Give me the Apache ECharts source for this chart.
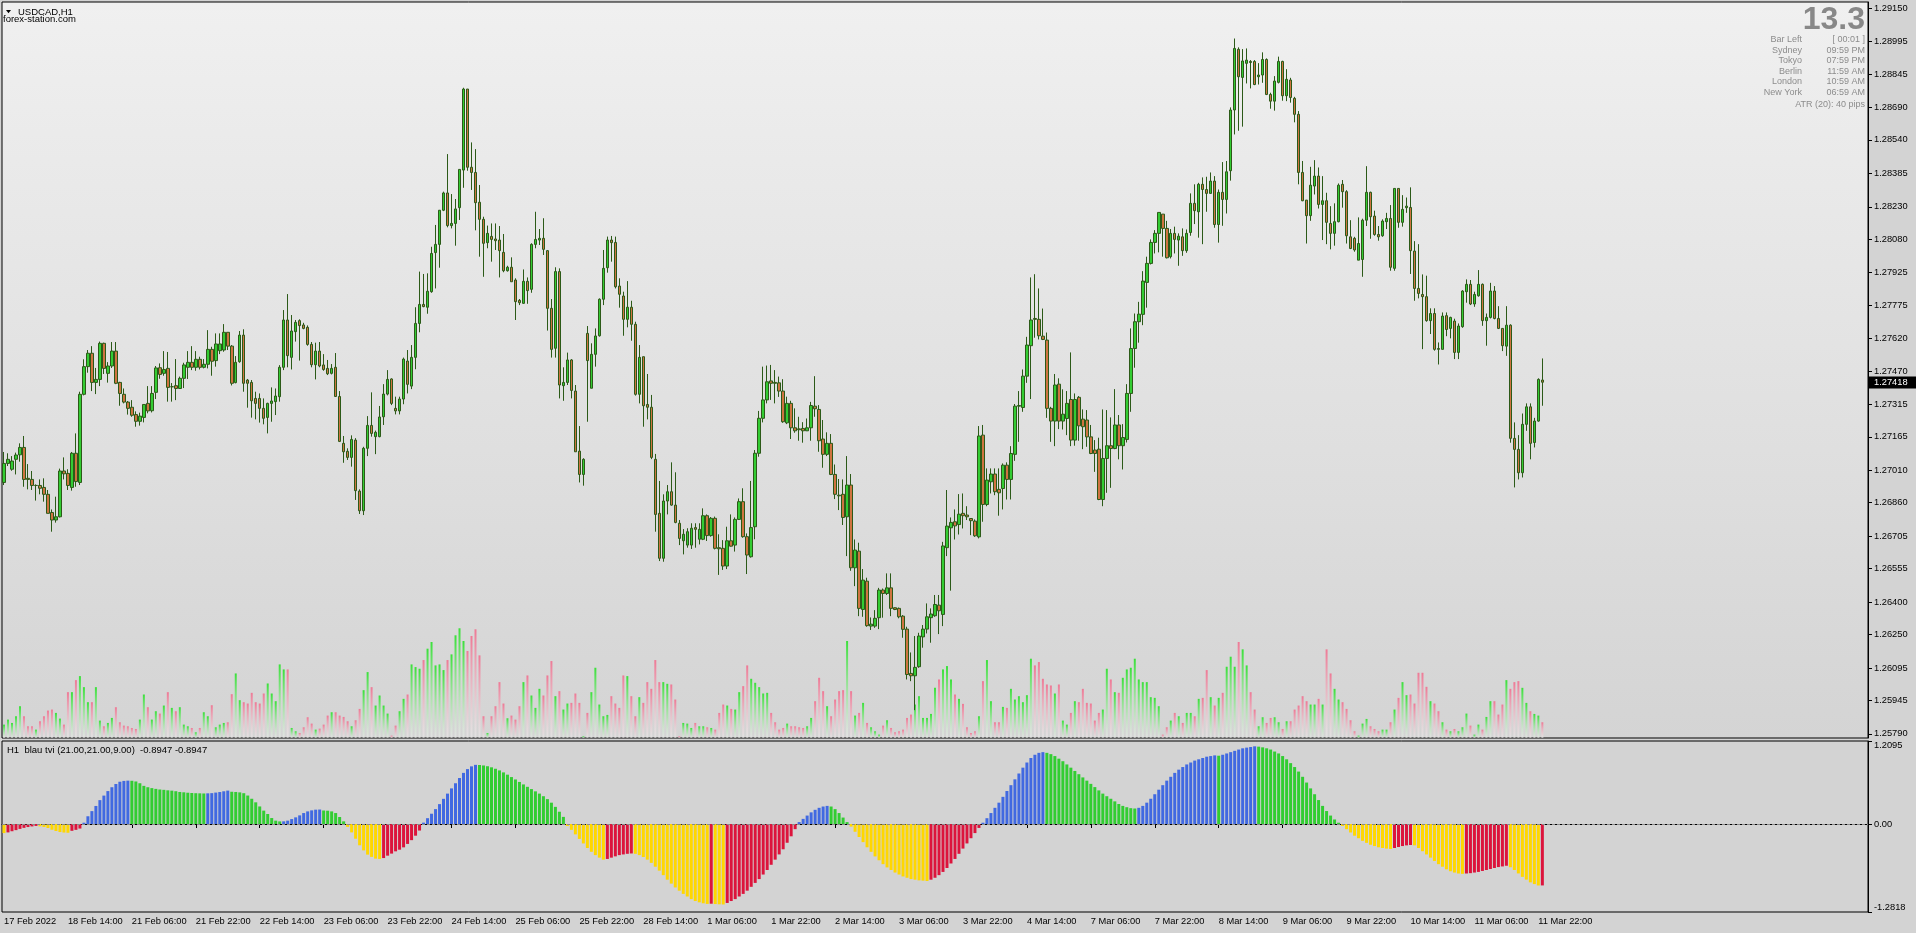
<!DOCTYPE html>
<html><head><meta charset="utf-8">
<script src="https://cdn.jsdelivr.net/npm/echarts@6/dist/echarts.min.js"></script>
<style>html,body{margin:0;padding:0;background:#d3d3d3;overflow:hidden}#c{width:1916px;height:933px}</style>
</head><body><div id="c"></div><script>
const opens=[1.26954,1.27042,1.27015,1.27061,1.27082,1.27116,1.26973,1.26968,1.26940,1.26940,
1.26931,1.26899,1.26815,1.26780,1.26795,1.27007,1.26996,1.26931,1.27089,1.26954,
1.27362,1.27490,1.27552,1.27417,1.27431,1.27598,1.27459,1.27493,1.27562,1.27417,
1.27362,1.27326,1.27302,1.27268,1.27237,1.27255,1.27320,1.27286,1.27371,1.27485,
1.27459,1.27482,1.27397,1.27402,1.27389,1.27436,1.27487,1.27510,1.27487,1.27524,
1.27487,1.27501,1.27570,1.27518,1.27564,1.27567,1.27649,1.27585,1.27416,1.27513,
1.27636,1.27428,1.27417,1.27343,1.27343,1.27297,1.27255,1.27320,1.27328,1.27351,
1.27487,1.27706,1.27533,1.27652,1.27703,1.27683,1.27672,1.27593,1.27499,1.27562,
1.27498,1.27482,1.27459,1.27487,1.27352,1.27135,1.27098,1.27070,1.27150,1.26914,
1.26823,1.27112,1.27218,1.27166,1.27166,1.27258,1.27363,1.27433,1.27297,1.27285,
1.27340,1.27516,1.27400,1.27533,1.27690,1.27778,1.27765,1.27837,1.28018,1.28056,
1.28214,1.28294,1.28143,1.28153,1.28226,1.28400,1.28775,1.28413,1.28389,1.28251,
1.28172,1.28064,1.28093,1.28081,1.28076,1.28019,1.27934,1.27950,1.27891,1.27797,
1.27783,1.27885,1.27848,1.28056,1.28076,1.28084,1.28027,1.27760,1.27575,1.27930,
1.27402,1.27417,1.27521,1.27377,1.27099,1.26991,1.27644,1.27390,1.27547,1.27633,
1.27802,1.27948,1.28076,1.28065,1.27863,1.27817,1.27709,1.27765,1.27686,1.27362,
1.27536,1.27315,1.27302,1.27061,1.26811,1.26603,1.26868,1.26911,1.26849,1.26765,
1.26684,1.26664,1.26664,1.26745,1.26691,1.26691,1.26800,1.26708,1.26788,1.26652,
1.26649,1.26567,1.26684,1.26664,1.26783,1.26865,1.26703,1.26610,1.26749,1.27089,
1.27251,1.27336,1.27424,1.27417,1.27415,1.27377,1.27230,1.27320,1.27207,1.27202,
1.27204,1.27193,1.27207,1.27307,1.27292,1.27155,1.27084,1.27135,1.26991,1.26895,
1.26899,1.26795,1.26942,1.26559,1.26636,1.26366,1.26497,1.26289,1.26289,1.26328,
1.26456,1.26440,1.26466,1.26374,1.26371,1.26335,1.26275,1.26070,1.26059,1.26101,
1.26239,1.26275,1.26328,1.26337,1.26386,1.26343,1.26652,1.26744,1.26772,1.26759,
1.26811,1.26803,1.26787,1.26775,1.26702,1.27173,1.26852,1.26957,1.26993,1.26922,
1.26926,1.27034,1.26968,1.27084,1.27307,1.27301,1.27446,1.27587,1.27713,1.27709,
1.27631,1.27613,1.27297,1.27238,1.27409,1.27238,1.27250,1.27338,1.27150,1.27348,
1.27247,1.27243,1.27165,1.27104,1.27108,1.26875,1.27065,1.27124,1.27111,1.27220,
1.27124,1.27153,1.27366,1.27574,1.27698,1.27732,1.27880,1.27968,1.28065,1.28107,
1.28196,1.28130,1.27999,1.28107,1.28076,1.28091,1.28027,1.28111,1.28246,1.28207,
1.28334,1.28310,1.28292,1.28349,1.28148,1.28297,1.28264,1.28397,1.28678,1.28959,
1.28829,1.28894,1.28903,1.28903,1.28832,1.28840,1.28912,1.28750,1.28719,1.28806,
1.28903,1.28744,1.28817,1.28732,1.28658,1.28389,1.28261,1.28189,1.28326,1.28372,
1.28241,1.28258,1.28153,1.28107,1.28161,1.28334,1.28300,1.28091,1.28084,1.27983,
1.27986,1.28168,1.28297,1.28187,1.28102,1.28096,1.28161,1.28176,1.27945,1.28315,
1.28158,1.28226,1.28227,1.28025,1.27852,1.27824,1.27814,1.27703,1.27736,1.27574,
1.27570,1.27726,1.27667,1.27701,1.27556,1.27675,1.27837,1.27871,1.27780,1.27818,
1.27871,1.27703,1.27718,1.27840,1.27713,1.27667,1.27585,1.27682,1.27158,1.27107,
1.26999,1.27223,1.27304,1.27139,1.27238,1.27428];
const highs=[1.27095,1.27089,1.27076,1.27092,1.27135,1.27169,1.27039,1.27007,1.26945,1.26968,
1.26973,1.26919,1.26829,1.26888,1.27018,1.27070,1.27015,1.27095,1.27181,1.27374,
1.27524,1.27567,1.27585,1.27484,1.27606,1.27601,1.27511,1.27604,1.27604,1.27420,
1.27389,1.27331,1.27335,1.27283,1.27277,1.27315,1.27400,1.27400,1.27493,1.27505,
1.27562,1.27558,1.27414,1.27525,1.27444,1.27508,1.27562,1.27585,1.27562,1.27536,
1.27525,1.27659,1.27582,1.27644,1.27644,1.27687,1.27649,1.27590,1.27539,1.27655,
1.27663,1.27433,1.27428,1.27374,1.27366,1.27343,1.27323,1.27394,1.27389,1.27497,
1.27752,1.27826,1.27729,1.27706,1.27709,1.27693,1.27681,1.27604,1.27601,1.27604,
1.27548,1.27521,1.27502,1.27553,1.27377,1.27169,1.27112,1.27172,1.27159,1.26922,
1.27119,1.27261,1.27371,1.27194,1.27308,1.27409,1.27474,1.27436,1.27351,1.27351,
1.27532,1.27567,1.27590,1.27765,1.27930,1.27919,1.27922,1.28045,1.28146,1.28215,
1.28300,1.28474,1.28289,1.28266,1.28403,1.28781,1.28775,1.28528,1.28497,1.28331,
1.28184,1.28143,1.28153,1.28153,1.28141,1.28104,1.27957,1.27996,1.27899,1.27803,
1.27940,1.27903,1.28061,1.28207,1.28127,1.28177,1.28030,1.27803,1.27950,1.27945,
1.27487,1.27555,1.27525,1.27405,1.27215,1.27066,1.27678,1.27598,1.27667,1.27806,
1.28030,1.28092,1.28095,1.28092,1.27899,1.27837,1.27886,1.27795,1.27698,1.27590,
1.27536,1.27456,1.27359,1.27086,1.26961,1.26899,1.26942,1.27047,1.27001,1.26780,
1.26738,1.26742,1.26765,1.26765,1.26765,1.26834,1.26806,1.26794,1.26796,1.26714,
1.26687,1.26749,1.26806,1.26792,1.26880,1.26927,1.26718,1.26961,1.27104,1.27285,
1.27490,1.27495,1.27498,1.27474,1.27444,1.27432,1.27351,1.27332,1.27297,1.27258,
1.27233,1.27250,1.27327,1.27446,1.27312,1.27243,1.27186,1.27178,1.27037,1.26970,
1.26968,1.27076,1.26993,1.26690,1.26675,1.26553,1.26513,1.26329,1.26363,1.26466,
1.26463,1.26533,1.26533,1.26375,1.26375,1.26340,1.26286,1.26167,1.26243,1.26258,
1.26294,1.26394,1.26371,1.26433,1.26433,1.26679,1.26919,1.26792,1.26829,1.26900,
1.26903,1.26844,1.26787,1.26783,1.27215,1.27220,1.27019,1.27019,1.27019,1.27019,
1.27042,1.27047,1.27122,1.27317,1.27377,1.27477,1.27628,1.27903,1.27918,1.27852,
1.27759,1.27648,1.27304,1.27456,1.27436,1.27385,1.27377,1.27556,1.27366,1.27354,
1.27292,1.27289,1.27220,1.27150,1.27161,1.27292,1.27289,1.27255,1.27386,1.27266,
1.27224,1.27409,1.27667,1.27736,1.27790,1.27932,1.27999,1.28079,1.28122,1.28204,
1.28196,1.28165,1.28127,1.28138,1.28107,1.28130,1.28125,1.28292,1.28334,1.28341,
1.28366,1.28369,1.28389,1.28372,1.28310,1.28437,1.28442,1.28690,1.29009,1.28968,
1.28960,1.28963,1.28909,1.28909,1.28895,1.28945,1.28917,1.28758,1.28835,1.28925,
1.28906,1.28867,1.28827,1.28739,1.28673,1.28442,1.28261,1.28415,1.28446,1.28412,
1.28372,1.28295,1.28233,1.28246,1.28338,1.28354,1.28307,1.28168,1.28091,1.28181,
1.28175,1.28418,1.28300,1.28212,1.28141,1.28172,1.28202,1.28238,1.28315,1.28315,
1.28284,1.28273,1.28320,1.28071,1.28057,1.27917,1.27911,1.27760,1.27760,1.27602,
1.27741,1.27741,1.27721,1.27712,1.27690,1.27844,1.27894,1.27891,1.27837,1.27937,
1.27875,1.27736,1.27878,1.27863,1.27770,1.27667,1.27770,1.27686,1.27232,1.27173,
1.27273,1.27320,1.27320,1.27253,1.27436,1.27528];
const lows=[1.26942,1.27030,1.27008,1.26991,1.27050,1.26934,1.26922,1.26919,1.26870,1.26899,
1.26865,1.26811,1.26726,1.26768,1.26792,1.26968,1.26919,1.26916,1.26934,1.26942,
1.27357,1.27462,1.27377,1.27363,1.27400,1.27456,1.27416,1.27484,1.27409,1.27309,
1.27320,1.27268,1.27258,1.27212,1.27217,1.27232,1.27274,1.27278,1.27340,1.27434,
1.27448,1.27328,1.27328,1.27335,1.27388,1.27391,1.27433,1.27474,1.27471,1.27477,
1.27482,1.27482,1.27448,1.27490,1.27548,1.27559,1.27567,1.27403,1.27413,1.27508,
1.27374,1.27300,1.27254,1.27246,1.27231,1.27223,1.27181,1.27235,1.27266,1.27328,
1.27474,1.27487,1.27477,1.27606,1.27518,1.27663,1.27587,1.27487,1.27431,1.27487,
1.27471,1.27451,1.27454,1.27351,1.27141,1.27045,1.27058,1.27027,1.26873,1.26808,
1.26803,1.27076,1.27166,1.27085,1.27163,1.27220,1.27357,1.27312,1.27269,1.27269,
1.27316,1.27366,1.27386,1.27478,1.27649,1.27765,1.27735,1.27832,1.27852,1.27948,
1.28210,1.28135,1.28130,1.28050,1.28169,1.28318,1.28397,1.28308,1.28121,1.27999,
1.27906,1.28038,1.27976,1.28030,1.27903,1.27927,1.27930,1.27883,1.27706,1.27775,
1.27781,1.27781,1.27832,1.28038,1.28053,1.28007,1.27657,1.27532,1.27532,1.27343,
1.27332,1.27405,1.27343,1.27096,1.26954,1.26939,1.27235,1.27390,1.27490,1.27629,
1.27775,1.27925,1.27976,1.27852,1.27763,1.27633,1.27672,1.27610,1.27356,1.27320,
1.27212,1.27246,1.27062,1.26726,1.26590,1.26587,1.26806,1.26846,1.26765,1.26664,
1.26621,1.26652,1.26646,1.26652,1.26667,1.26687,1.26683,1.26703,1.26644,1.26526,
1.26549,1.26553,1.26657,1.26634,1.26780,1.26698,1.26530,1.26606,1.26691,1.27073,
1.27232,1.27320,1.27336,1.27320,1.27350,1.27230,1.27224,1.27155,1.27184,1.27147,
1.27138,1.27192,1.27147,1.27258,1.27096,1.27022,1.27076,1.26988,1.26877,1.26826,
1.26757,1.26613,1.26545,1.26474,1.26335,1.26332,1.26286,1.26271,1.26281,1.26275,
1.26328,1.26433,1.26335,1.26363,1.26325,1.26235,1.26042,1.26034,1.25900,1.26096,
1.26189,1.26255,1.26212,1.26332,1.26252,1.26289,1.26613,1.26453,1.26690,1.26713,
1.26741,1.26780,1.26710,1.26702,1.26695,1.26772,1.26844,1.26903,1.26895,1.26800,
1.26829,1.26875,1.26875,1.27054,1.27142,1.27281,1.27415,1.27340,1.27624,1.27616,
1.27613,1.27253,1.27142,1.27122,1.27201,1.27199,1.27173,1.27122,1.27124,1.27147,
1.27108,1.27119,1.27085,1.27003,1.26872,1.26844,1.26906,1.26929,1.27108,1.27061,
1.27014,1.27139,1.27281,1.27485,1.27601,1.27682,1.27763,1.27963,1.28014,1.28019,
1.27999,1.27991,1.27991,1.28014,1.27957,1.28003,1.28017,1.28096,1.28150,1.28087,
1.28057,1.28207,1.28292,1.28133,1.28064,1.28142,1.28199,1.28351,1.28565,1.28582,
1.28601,1.28801,1.28778,1.28793,1.28796,1.28804,1.28747,1.28684,1.28675,1.28801,
1.28721,1.28719,1.28712,1.28621,1.28334,1.28256,1.28060,1.28165,1.28287,1.28222,
1.28076,1.28057,1.28033,1.28050,1.28158,1.28226,1.28060,1.28034,1.28022,1.27983,
1.27906,1.28141,1.28082,1.28096,1.28073,1.28091,1.28127,1.27934,1.27934,1.28133,
1.28138,1.28202,1.27919,1.27795,1.27806,1.27571,1.27698,1.27641,1.27564,1.27500,
1.27570,1.27631,1.27621,1.27525,1.27525,1.27670,1.27786,1.27775,1.27767,1.27814,
1.27679,1.27587,1.27713,1.27709,1.27664,1.27562,1.27540,1.27138,1.26931,1.26968,
1.26977,1.27193,1.27061,1.27116,1.27235,1.27309];
const closes=[1.27042,1.27061,1.27053,1.27081,1.27116,1.26968,1.26968,1.26940,1.26940,1.26927,
1.26899,1.26811,1.26780,1.26795,1.27007,1.26994,1.26940,1.27089,1.26958,1.27362,
1.27490,1.27552,1.27417,1.27431,1.27598,1.27482,1.27493,1.27562,1.27413,1.27366,
1.27326,1.27297,1.27265,1.27237,1.27261,1.27315,1.27285,1.27366,1.27484,1.27454,
1.27477,1.27394,1.27397,1.27389,1.27436,1.27498,1.27510,1.27487,1.27524,1.27487,
1.27501,1.27570,1.27515,1.27595,1.27595,1.27649,1.27585,1.27413,1.27510,1.27636,
1.27413,1.27413,1.27332,1.27320,1.27297,1.27251,1.27320,1.27331,1.27354,1.27487,
1.27706,1.27541,1.27655,1.27695,1.27680,1.27667,1.27593,1.27499,1.27562,1.27493,
1.27477,1.27457,1.27482,1.27352,1.27144,1.27096,1.27070,1.27153,1.26916,1.26823,
1.27112,1.27218,1.27181,1.27186,1.27257,1.27363,1.27431,1.27320,1.27285,1.27340,
1.27525,1.27408,1.27533,1.27690,1.27778,1.27768,1.27839,1.28014,1.28056,1.28214,
1.28294,1.28143,1.28153,1.28220,1.28403,1.28775,1.28413,1.28389,1.28249,1.28172,
1.28061,1.28107,1.28079,1.28073,1.28027,1.27934,1.27950,1.27883,1.27791,1.27786,
1.27885,1.27842,1.28056,1.28079,1.28084,1.28033,1.27760,1.27570,1.27930,1.27405,
1.27417,1.27521,1.27380,1.27096,1.26991,1.27061,1.27518,1.27547,1.27632,1.27802,
1.27945,1.28076,1.28064,1.27860,1.27825,1.27709,1.27765,1.27686,1.27362,1.27533,
1.27309,1.27302,1.27070,1.26806,1.26603,1.26868,1.26911,1.26849,1.26769,1.26695,
1.26714,1.26726,1.26742,1.26737,1.26737,1.26800,1.26708,1.26788,1.26649,1.26647,
1.26567,1.26684,1.26659,1.26783,1.26865,1.26703,1.26618,1.26745,1.27089,1.27251,
1.27336,1.27420,1.27413,1.27413,1.27377,1.27235,1.27320,1.27207,1.27193,1.27198,
1.27193,1.27207,1.27310,1.27295,1.27147,1.27084,1.27135,1.26991,1.26899,1.26892,
1.26792,1.26942,1.26559,1.26641,1.26371,1.26502,1.26291,1.26298,1.26325,1.26456,
1.26440,1.26466,1.26371,1.26366,1.26332,1.26274,1.26065,1.26059,1.26098,1.26243,
1.26275,1.26332,1.26345,1.26389,1.26360,1.26660,1.26752,1.26769,1.26753,1.26807,
1.26800,1.26795,1.26777,1.26707,1.27169,1.26852,1.26965,1.26993,1.26911,1.26906,
1.27034,1.26968,1.27088,1.27307,1.27310,1.27446,1.27590,1.27706,1.27709,1.27633,
1.27616,1.27297,1.27238,1.27405,1.27238,1.27270,1.27320,1.27150,1.27338,1.27216,
1.27212,1.27165,1.27088,1.27088,1.26875,1.27065,1.27124,1.27111,1.27220,1.27124,
1.27162,1.27366,1.27574,1.27698,1.27733,1.27886,1.27968,1.28065,1.28107,1.28204,
1.28130,1.27994,1.28107,1.28079,1.28094,1.28027,1.28107,1.28246,1.28212,1.28334,
1.28310,1.28292,1.28349,1.28148,1.28297,1.28264,1.28392,1.28678,1.28963,1.28832,
1.28905,1.28909,1.28898,1.28796,1.28840,1.28912,1.28750,1.28719,1.28812,1.28903,
1.28744,1.28820,1.28736,1.28658,1.28389,1.28258,1.28189,1.28330,1.28372,1.28241,
1.28258,1.28158,1.28107,1.28161,1.28330,1.28300,1.28096,1.28037,1.28030,1.28060,
1.28168,1.28297,1.28184,1.28102,1.28091,1.28164,1.28176,1.27950,1.28315,1.28158,
1.28218,1.28233,1.28027,1.27852,1.27829,1.27814,1.27703,1.27736,1.27570,1.27570,
1.27724,1.27662,1.27718,1.27556,1.27678,1.27840,1.27871,1.27780,1.27824,1.27871,
1.27703,1.27718,1.27840,1.27713,1.27667,1.27587,1.27682,1.27158,1.27107,1.26999,
1.27223,1.27304,1.27135,1.27238,1.27431,1.27418];
const volumes=[40,55,
45,65,95,65,35,35,25,50,65,82,85,75,58,40,137,137,173,185,152,107,
107,152,52,35,45,60,92,47,37,35,30,27,55,130,92,55,80,73,97,137,
90,80,92,40,35,30,17,30,77,65,98,32,40,45,47,131,193,113,107,103,
135,107,103,133,163,133,110,220,205,205,30,20,15,32,62,43,25,28,40,67,
77,77,67,63,50,35,53,87,143,197,152,97,127,97,73,7,37,80,117,130,
220,212,207,233,267,287,217,220,203,233,250,307,328,290,260,305,325,247,65,15,
65,95,167,103,59,67,55,95,167,187,127,90,147,127,187,230,125,140,85,103,
105,133,105,5,75,137,210,100,65,69,125,103,90,187,185,125,65,122,105,167,
147,233,167,167,162,160,115,5,45,43,30,45,35,35,32,30,25,75,100,97,
87,85,137,155,217,177,165,152,133,135,75,47,25,30,43,35,35,32,30,35,
60,110,180,140,95,65,115,140,143,290,140,67,75,105,45,32,20,10,37,53,
30,17,20,25,60,70,100,125,60,60,72,150,175,205,215,175,130,117,102,32,
15,20,65,170,233,110,47,47,93,90,147,115,125,107,128,237,217,227,177,160,
157,133,160,52,40,75,110,107,147,105,103,52,75,85,207,175,137,135,180,205,
210,237,175,167,167,122,120,95,10,32,52,75,65,45,75,75,65,117,120,203,
122,97,120,135,213,243,213,287,265,217,137,85,35,62,45,60,62,47,27,50,
50,85,97,125,110,100,100,117,100,265,193,147,115,107,87,53,20,7,43,57,
35,27,20,25,25,47,85,120,167,128,130,103,195,195,153,110,103,80,47,25,
20,27,20,32,73,37,10,40,25,63,110,110,70,100,173,147,167,170,150,105,
80,72,67,47];
const tviBefore=-0.125;
const tvi=[-0.132,-0.122,-0.105,-0.089,-0.071,-0.056,-0.044,-0.035,-0.028,-0.034,
-0.043,-0.058,-0.083,-0.102,-0.117,-0.124,-0.127,-0.099,-0.085,-0.066,
0.019,0.113,0.188,0.263,0.348,0.414,0.480,0.536,0.583,0.616,
0.628,0.632,0.630,0.620,0.594,0.556,0.536,0.523,0.512,0.503,
0.498,0.491,0.486,0.478,0.467,0.462,0.456,0.452,0.449,0.447,
0.445,0.447,0.450,0.458,0.466,0.477,0.487,0.470,0.467,0.461,
0.449,0.415,0.368,0.316,0.256,0.195,0.146,0.087,0.049,0.038,
0.039,0.049,0.072,0.097,0.126,0.160,0.184,0.199,0.209,0.211,
0.197,0.194,0.184,0.160,0.102,0.039,-0.042,-0.122,-0.214,-0.310,
-0.384,-0.446,-0.479,-0.504,-0.509,-0.496,-0.461,-0.431,-0.398,-0.374,
-0.340,-0.290,-0.235,-0.170,-0.095,0.020,0.085,0.150,0.217,0.290,
0.367,0.443,0.519,0.594,0.670,0.745,0.800,0.840,0.862,0.860,
0.853,0.842,0.826,0.805,0.781,0.752,0.719,0.684,0.649,0.613,
0.577,0.542,0.509,0.476,0.443,0.405,0.363,0.311,0.250,0.179,
0.104,-0.028,-0.085,-0.151,-0.217,-0.283,-0.349,-0.405,-0.453,-0.490,
-0.519,-0.509,-0.490,-0.471,-0.453,-0.443,-0.434,-0.429,-0.434,-0.453,
-0.481,-0.519,-0.566,-0.622,-0.679,-0.745,-0.811,-0.868,-0.924,-0.971,
-1.018,-1.056,-1.094,-1.122,-1.141,-1.155,-1.164,-1.161,-1.166,-1.170,
-1.172,-1.150,-1.122,-1.094,-1.056,-1.018,-0.971,-0.915,-0.858,-0.802,
-0.736,-0.670,-0.594,-0.519,-0.443,-0.368,-0.273,-0.179,-0.075,0.028,
0.075,0.123,0.170,0.207,0.236,0.255,0.264,0.255,0.217,0.160,
0.094,0.028,-0.038,-0.113,-0.189,-0.264,-0.339,-0.405,-0.472,-0.528,
-0.585,-0.632,-0.670,-0.707,-0.736,-0.764,-0.783,-0.802,-0.811,-0.821,
-0.825,-0.830,-0.811,-0.783,-0.745,-0.698,-0.641,-0.575,-0.509,-0.434,
-0.358,-0.283,-0.207,-0.132,-0.057,0.019,0.085,0.160,0.236,0.311,
0.396,0.481,0.566,0.651,0.736,0.821,0.896,0.962,1.009,1.037,
1.047,1.037,1.018,0.990,0.952,0.915,0.868,0.821,0.773,0.726,
0.679,0.632,0.585,0.538,0.490,0.443,0.405,0.368,0.330,0.292,
0.264,0.245,0.231,0.226,0.236,0.264,0.311,0.368,0.434,0.500,
0.566,0.632,0.688,0.745,0.792,0.830,0.868,0.896,0.924,0.943,
0.962,0.981,0.990,1.000,0.995,1.009,1.028,1.047,1.066,1.085,
1.103,1.113,1.122,1.132,1.127,1.117,1.103,1.085,1.056,1.028,
0.990,0.943,0.887,0.830,0.764,0.688,0.604,0.519,0.434,0.349,
0.264,0.189,0.123,0.066,0.019,-0.028,-0.075,-0.123,-0.170,-0.207,
-0.245,-0.274,-0.302,-0.321,-0.339,-0.349,-0.358,-0.363,-0.349,-0.335,
-0.321,-0.311,-0.306,-0.311,-0.349,-0.396,-0.443,-0.490,-0.538,-0.585,
-0.622,-0.660,-0.688,-0.707,-0.721,-0.726,-0.721,-0.716,-0.707,-0.698,
-0.684,-0.670,-0.655,-0.641,-0.627,-0.618,-0.608,-0.630,-0.670,-0.720,
-0.770,-0.810,-0.850,-0.875,-0.8955,-0.8947];
const xTickLabels=['17 Feb 2022','18 Feb 14:00','21 Feb 06:00','21 Feb 22:00','22 Feb 14:00','23 Feb 06:00','23 Feb 22:00','24 Feb 14:00','25 Feb 06:00','25 Feb 22:00','28 Feb 14:00','1 Mar 06:00','1 Mar 22:00','2 Mar 14:00','3 Mar 06:00','3 Mar 22:00','4 Mar 14:00','7 Mar 06:00','7 Mar 22:00','8 Mar 14:00','9 Mar 06:00','9 Mar 22:00','10 Mar 14:00','11 Mar 06:00','11 Mar 22:00'];
const priceTicks=[1.25790,1.25945,1.26095,1.26250,1.26400,1.26555,1.26705,1.26860,1.27010,1.27165,1.27315,1.27470,1.27620,1.27775,1.27925,1.28080,1.28230,1.28385,1.28540,1.28690,1.28845,1.28995,1.29150];
const tviTicks=[-1.2818,0,1.2095];
const lastPrice=1.27418;
const infoNames=['Bar Left','Sydney','Tokyo','Berlin','London','New York'];
const infoValues=['[ 00:01 ]','09:59 PM','07:59 PM','11:59 AM','10:59 AM','06:59 AM'];
const atrText='ATR (20): 40 pips';
const spreadText='13.3';
const symbolTitle='USDCAD,H1';
const siteTitle='forex-station.com';
const indTitle='H1  blau tvi (21.00,21.00,9.00)  -0.8947 -0.8947';

// hourly categories (weekdays only), with empty future slots as in the terminal's chart shift
const N_SLOTS=467;
const cats=[];
{
  let t=Date.UTC(2022,1,17,22);
  const mon=['Jan','Feb','Mar','Apr','May','Jun','Jul','Aug','Sep','Oct','Nov','Dec'];
  while(cats.length<N_SLOTS){
    const d=new Date(t);const wd=d.getUTCDay();
    if(wd!==0&&wd!==6){cats.push(d.getUTCDate()+' '+mon[d.getUTCMonth()]+' '+String(d.getUTCHours()).padStart(2,'0')+':00');}
    t+=3600000;
  }
}
const FONT='"Liberation Sans", Arial, sans-serif';
const candleData=closes.map((c,i)=>[opens[i],c,lows[i],highs[i]]);
const volData=volumes.map((v,i)=>{
  const up=closes[i]>=opens[i];
  const c=up?'#3be03b':'#ee7a96';
  return {value:v,itemStyle:{color:new echarts.graphic.LinearGradient(0,0,0,1,[{offset:0,color:c},{offset:1,color:'rgba(235,235,235,0.6)'}])}};
});
const tviData=tvi.map((v,i)=>{
  const p=i===0?tviBefore:tvi[i-1];
  let col;
  if(v>=0) col=v>p?'#4169e1':'#32cd32'; else col=v<p?'#ffd700':'#dc143c';
  return {value:v,itemStyle:{color:col}};
});
const tickShow=(idx)=>idx%16===0&&idx/16<xTickLabels.length;

const chart=echarts.init(document.getElementById('c'),null,{renderer:'canvas',width:1916,height:933});
const graphics=[
  {type:'polygon',shape:{points:[[6,10],[11,10],[8.5,13.2]]},style:{fill:'#000'}},
  {type:'text',x:18,y:12,style:{text:symbolTitle,font:'9.5px '+FONT,fill:'#000',verticalAlign:'middle'}},
  {type:'text',x:3,y:19.5,style:{text:siteTitle,font:'9.5px '+FONT,fill:'#000',verticalAlign:'middle'}},
  {type:'text',x:1865,y:20,style:{text:spreadText,font:'bold 32px "Liberation Sans Narrow", '+FONT,fill:'#888888',align:'right',verticalAlign:'middle'}},
  {type:'text',x:1865,y:104.5,style:{text:atrText,font:'9px '+FONT,fill:'#8c8c8c',align:'right',verticalAlign:'middle'}},
  {type:'text',x:7,y:750,style:{text:indTitle,font:'9.5px '+FONT,fill:'#000',verticalAlign:'middle'}},
  {type:'rect',z:100,shape:{x:1868,y:376.5,width:48,height:12},style:{fill:'#000'}},
  {type:'text',z:101,x:1874,y:382.5,style:{text:lastPrice.toFixed(5),font:'9.3px '+FONT,fill:'#fff',verticalAlign:'middle'}}
];
infoNames.forEach((n,k)=>{
  graphics.push({type:'text',x:1802,y:39.5+10.6*k,style:{text:n,font:'9px '+FONT,fill:'#8c8c8c',align:'right',verticalAlign:'middle'}});
  graphics.push({type:'text',x:1865,y:39.5+10.6*k,style:{text:infoValues[k],font:'9px '+FONT,fill:'#8c8c8c',align:'right',verticalAlign:'middle'}});
});

chart.setOption({
  animation:false,
  backgroundColor:'#d3d3d3',
  textStyle:{fontFamily:FONT},
  grid:[
    {left:2,top:2,width:1866,height:736,show:true,borderColor:'#000',borderWidth:1,
     backgroundColor:new echarts.graphic.LinearGradient(0,0,0,1,[{offset:0,color:'#f0f0f0'},{offset:1,color:'#d4d4d4'}])},
    {left:2,top:741,width:1866,height:171,show:true,borderColor:'#000',borderWidth:1,backgroundColor:'#d3d3d3'}
  ],
  xAxis:[
    {gridIndex:0,type:'category',data:cats,boundaryGap:true,show:false},
    {gridIndex:1,type:'category',data:cats,boundaryGap:true,
     axisLine:{lineStyle:{color:'#000',width:1}},
     axisTick:{show:true,alignWithLabel:true,interval:tickShow,length:4,lineStyle:{color:'#000'}},
     axisLabel:{interval:tickShow,formatter:(v,idx)=>xTickLabels[idx/16]||'',align:'left',margin:5,fontSize:9.3,color:'#000',fontFamily:FONT,hideOverlap:false},
     splitLine:{show:false}}
  ],
  yAxis:[
    {gridIndex:0,type:'value',position:'right',min:1.25771,max:1.29178,scale:true,
     axisLine:{show:true,lineStyle:{color:'#000'}},
     axisTick:{show:true,length:4,customValues:priceTicks,lineStyle:{color:'#000'}},
     axisLabel:{customValues:priceTicks,formatter:v=>v.toFixed(5),fontSize:9.3,color:'#000',margin:6,fontFamily:FONT},
     splitLine:{show:false}},
    {gridIndex:0,type:'value',min:0,max:2200,show:false,splitLine:{show:false}},
    {gridIndex:1,type:'value',position:'right',min:-1.2818,max:1.2095,
     axisLine:{show:true,lineStyle:{color:'#000'}},
     axisTick:{show:true,length:4,customValues:tviTicks,lineStyle:{color:'#000'}},
     axisLabel:{customValues:tviTicks,formatter:v=>v===0?'0.00':v.toFixed(4),fontSize:9.3,color:'#000',margin:6,fontFamily:FONT,
       verticalAlignMinLabel:'bottom',verticalAlignMaxLabel:'top'},
     splitLine:{show:false}}
  ],
  series:[
    {type:'bar',xAxisIndex:0,yAxisIndex:1,data:volData,barWidth:2,z:1,silent:true},
    {type:'candlestick',xAxisIndex:0,yAxisIndex:0,data:candleData,barWidth:3,z:3,silent:true,
     itemStyle:{color:'#33cc33',color0:'#cf7440',borderColor:'#2c5a18',borderColor0:'#2c5a18',borderColorDoji:'#2c5a18',borderWidth:1}},
    {type:'bar',xAxisIndex:1,yAxisIndex:2,data:tviData,barWidth:3,silent:true,
     markLine:{symbol:'none',silent:true,data:[{yAxis:0}],lineStyle:{color:'#8a8a8a',type:[3,2],width:1},label:{show:false}}}
  ],
  graphic:graphics
});
</script></body></html>
